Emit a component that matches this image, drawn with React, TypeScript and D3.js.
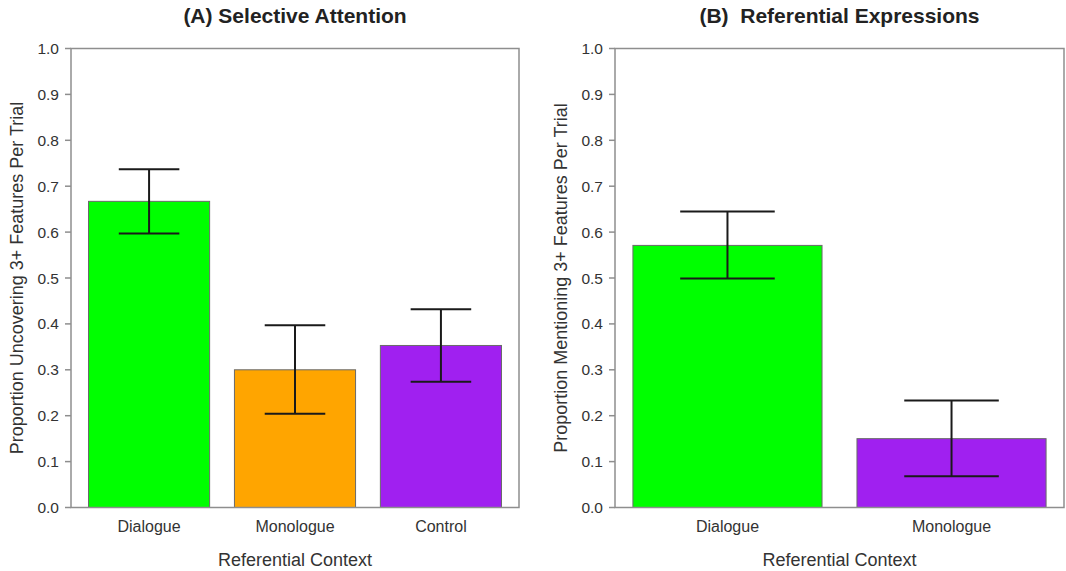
import React from "react";
import * as d3 from "d3";

const categoriesA = ["Dialogue", "Monologue", "Control"];
const meansA = [0.667, 0.300, 0.353];
const upperA = [0.737, 0.397, 0.432];
const lowerA = [0.597, 0.204, 0.274];
const colorsA = ["#00FF00", "#FFA500", "#A020F0"];

const categoriesB = ["Dialogue", "Monologue"];
const meansB = [0.571, 0.150];
const upperB = [0.645, 0.233];
const lowerB = [0.499, 0.068];
const colorsB = ["#00FF00", "#A020F0"];

const yTicks = [0, 0.1, 0.2, 0.3, 0.4, 0.5, 0.6, 0.7, 0.8, 0.9, 1.0];

const FONT = "'Liberation Sans', Arial, sans-serif";

type PanelProps = {
  title: string;
  yLabel: string;
  cats: string[];
  means: number[];
  upper: number[];
  lower: number[];
  colors: string[];
  x0: number;
  x1: number;
  padInner: number;
  padOuter: number;
  align: number;
};

function Panel(p: PanelProps) {
  const top = 48.5;
  const bottom = 507.5;
  const y = d3.scaleLinear().domain([0, 1]).range([bottom, top]);
  const x = d3
    .scaleBand<string>()
    .domain(p.cats)
    .range([p.x0, p.x1])
    .paddingInner(p.padInner)
    .paddingOuter(p.padOuter)
    .align(p.align);
  const bw = x.bandwidth();
  const mid = (p.x0 + p.x1) / 2;
  const axisColor = "#8e8e8e";
  return (
    <g>
      <text
        x={mid}
        y={23}
        textAnchor="middle"
        fontFamily={FONT}
        fontWeight="bold"
        fontSize={21}
        fill="#222"
        style={{ whiteSpace: "pre" }}
      >
        {p.title}
      </text>
      {p.cats.map((c, i) => (
        <rect
          key={c}
          x={x(c)}
          y={y(p.means[i])}
          width={bw}
          height={y(0) - y(p.means[i])}
          fill={p.colors[i]}
          stroke="#6a6a6a"
          strokeWidth={1}
        />
      ))}
      {p.cats.map((c, i) => {
        const cx = (x(c) as number) + bw / 2;
        const half = bw / 4;
        return (
          <g key={c + "e"} stroke="#1a1a1a" strokeWidth={2} fill="none">
            <line x1={cx} x2={cx} y1={y(p.upper[i])} y2={y(p.lower[i])} />
            <line x1={cx - half} x2={cx + half} y1={y(p.upper[i])} y2={y(p.upper[i])} />
            <line x1={cx - half} x2={cx + half} y1={y(p.lower[i])} y2={y(p.lower[i])} />
          </g>
        );
      })}
      <rect x={p.x0} y={top} width={p.x1 - p.x0} height={bottom - top} fill="none" stroke={axisColor} strokeWidth={1.5} />
      {yTicks.map((t) => (
        <g key={t}>
          <line x1={p.x0 - 6} x2={p.x0} y1={y(t)} y2={y(t)} stroke={axisColor} strokeWidth={1.5} />
          <text x={p.x0 - 12} y={y(t)} dy="0.36em" textAnchor="end" fontFamily={FONT} fontSize={15.5} fill="#333">
            {t.toFixed(1)}
          </text>
        </g>
      ))}
      {p.cats.map((c) => (
        <text
          key={c + "l"}
          x={(x(c) as number) + bw / 2}
          y={532}
          textAnchor="middle"
          fontFamily={FONT}
          fontSize={16}
          fill="#333"
        >
          {c}
        </text>
      ))}
      <text x={mid} y={566} textAnchor="middle" fontFamily={FONT} fontSize={18} fill="#333">
        Referential Context
      </text>
      <text
        transform={`translate(${p.x0 - 48},${(top + bottom) / 2}) rotate(-90)`}
        textAnchor="middle"
        fontFamily={FONT}
        fontSize={18}
        fill="#333"
      >
        {p.yLabel}
      </text>
    </g>
  );
}

export default function App() {
  return (
    <svg width={1066} height={571} style={{ position: "absolute", left: 0, top: 0, background: "#fff" }}>
      <rect width={1066} height={571} fill="#fff" />
      <Panel
        title="(A) Selective Attention"
        yLabel="Proportion Uncovering 3+ Features Per Trial"
        cats={categoriesA}
        means={meansA}
        upper={upperA}
        lower={lowerA}
        colors={colorsA}
        x0={71}
        x1={519}
        padInner={0.17}
        padOuter={0.12}
        align={0.5}
      />
      <Panel
        title="(B)  Referential Expressions"
        yLabel="Proportion Mentioning 3+ Features Per Trial"
        cats={categoriesB}
        means={meansB}
        upper={upperB}
        lower={lowerB}
        colors={colorsB}
        x0={615}
        x1={1064}
        padInner={0.156}
        padOuter={0.08}
        align={0.5}
      />
    </svg>
  );
}
